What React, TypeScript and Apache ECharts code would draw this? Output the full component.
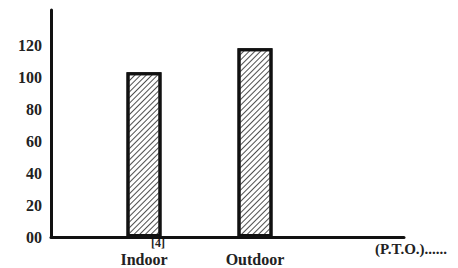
import React, { useEffect, useRef } from "react";
import * as echarts from "echarts";

const categories = ["Indoor", "Outdoor"];
const values = [103, 118];
const yTicks = [0, 20, 40, 60, 80, 100, 120];
const yLabels = ["00", "20", "40", "60", "80", "100", "120"];

const FONT = "'Liberation Serif', 'DejaVu Serif', serif";

export default function App() {
  const ref = useRef<HTMLDivElement>(null);
  useEffect(() => {
    const chart = echarts.init(ref.current!, null, { renderer: "svg" });
    chart.setOption({
      animation: false,
      backgroundColor: "#ffffff",
      grid: [
        { left: 88.5, width: 222, top: 10, bottom: 31 },
        { left: 51, right: 54, top: 10, bottom: 31 },
      ],
      xAxis: [
        {
          type: "category",
          gridIndex: 0,
          data: categories,
          axisLine: { show: false },
          axisTick: { show: false },
          axisLabel: {
            margin: 14,
            fontFamily: FONT,
            fontSize: 16,
            fontWeight: "bold",
            color: "#222",
          },
        },
        {
          type: "category",
          gridIndex: 1,
          data: [""],
          axisLine: { show: true, lineStyle: { color: "#111", width: 3 } },
          axisTick: { show: false },
          axisLabel: { show: false },
        },
      ],
      yAxis: [
        {
          type: "value",
          gridIndex: 0,
          min: 0,
          max: 142,
          show: false,
          splitLine: { show: false },
        },
        {
          type: "value",
          gridIndex: 1,
          min: 0,
          max: 142,
          interval: 20,
          axisLine: { show: true, lineStyle: { color: "#111", width: 3 } },
          axisTick: { show: false },
          splitLine: { show: false },
          axisLabel: {
            margin: 9,
            fontFamily: FONT,
            fontSize: 16,
            fontWeight: "bold",
            color: "#222",
            formatter: (v: number) => {
              const i = yTicks.indexOf(v);
              return i >= 0 ? yLabels[i] : "";
            },
          },
        },
      ],
      series: [
        {
          type: "bar",
          xAxisIndex: 0,
          yAxisIndex: 0,
          data: values,
          barWidth: 35,
          itemStyle: {
            color: "#ffffff",
            borderColor: "#111",
            borderWidth: 3,
            decal: {
              symbol: "rect",
              color: "rgba(60,60,60,0.9)",
              dashArrayX: [1, 0],
              dashArrayY: [1, 3],
              rotation: -Math.PI / 4,
            },
          },
        },
      ],
      graphic: [
        {
          type: "text",
          left: 151,
          top: 237,
          style: {
            text: "[4]",
            font: `bold 12px ${FONT}`,
            fill: "#222",
          },
        },
        {
          type: "text",
          left: 375,
          top: 241,
          style: {
            text: "(P.T.O.)......",
            font: `bold 15px ${FONT}`,
            fill: "#222",
          },
        },
      ],
    });
    return () => chart.dispose();
  }, []);
  return (
    <div
      ref={ref}
      style={{ position: "fixed", left: 0, top: 0, width: 458, height: 268 }}
    />
  );
}
